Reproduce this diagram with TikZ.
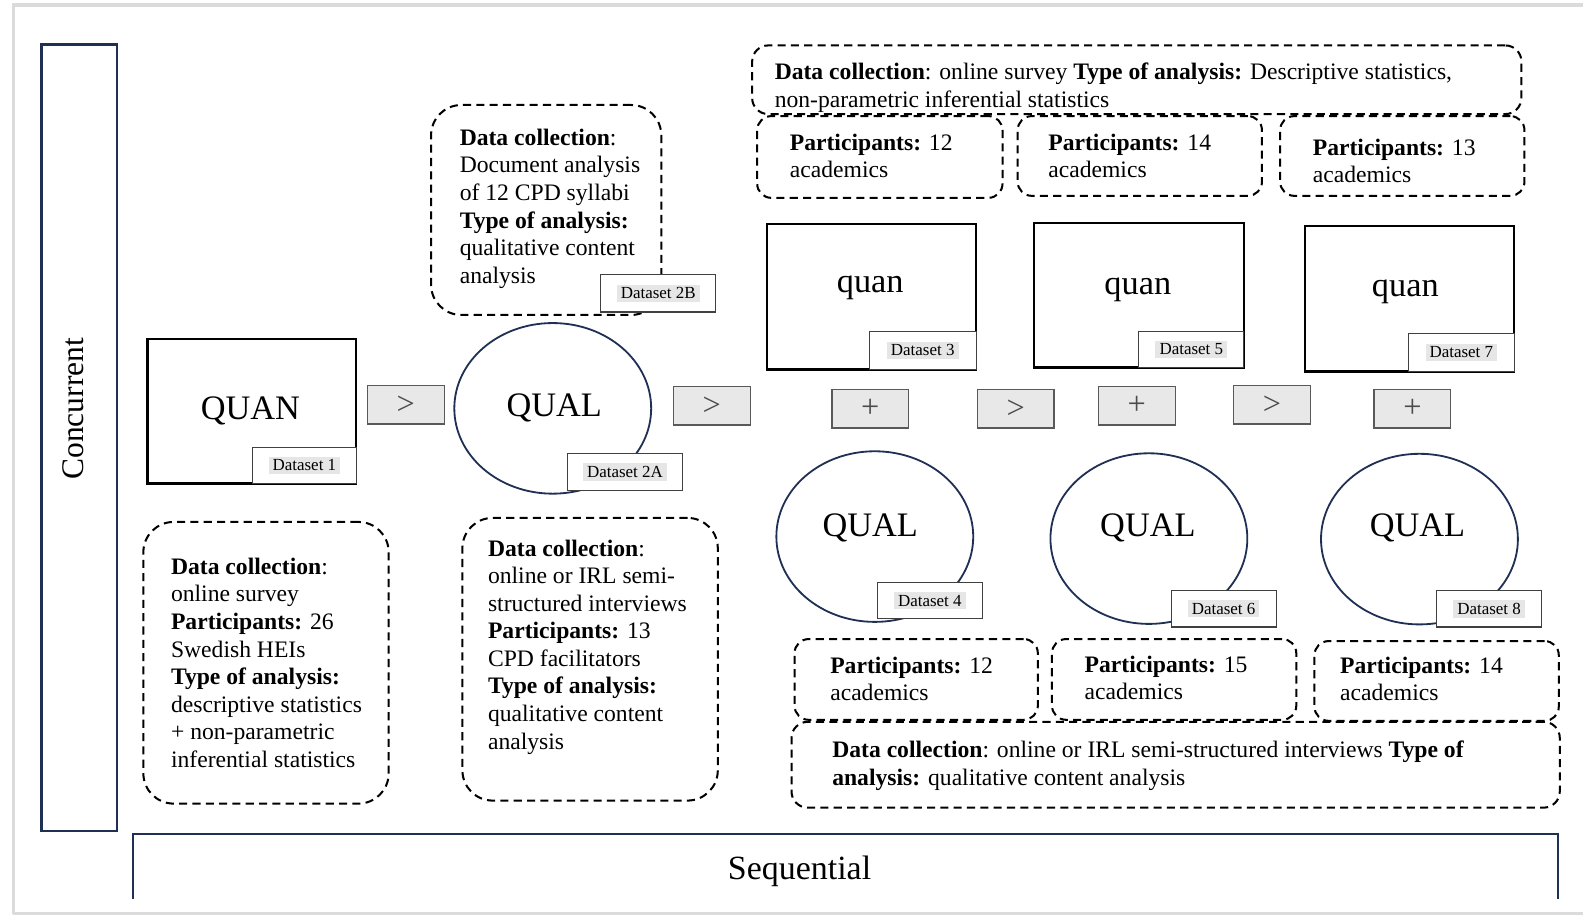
\documentclass[tikz,border=0pt]{standalone}
\usepackage{fontspec}
\setmainfont{Liberation Serif}
\usetikzlibrary{fit,shapes.geometric}
\definecolor{navy}{RGB}{32,48,84}
\definecolor{hilite}{RGB}{231,230,230}
\definecolor{opgray}{RGB}{232,232,232}
\newcommand{\bodyfont}{\fontsize{11.7}{13.65}\selectfont}
\begin{document}
\begin{tikzpicture}[x=0.5pt,y=-0.5pt,
  dbox/.style={draw=black, line width=1pt, dash pattern=on 4pt off 2.6pt, rounded corners=#1, inner sep=0pt},
  dbox/.default=7pt,
  solidbox/.style={draw=black, line width=1.1pt, inner sep=0pt},
  qualell/.style={ellipse, draw=navy, line width=0.9pt, minimum width=97.5pt, minimum height=84.5pt, inner sep=0pt},
  opbox/.style={draw=black!65, fill=opgray, line width=0.6pt, minimum width=38pt, minimum height=19pt, inner sep=0pt, font=\fontsize{16}{16}\selectfont, text=black!70},
  dsbox/.style={draw=black!75, fill=white, line width=0.6pt, inner sep=0pt},
  dstext/.style={fill=hilite, inner xsep=2pt, inner ysep=1.5pt, font=\fontsize{8.4}{9}\selectfont},
  % multi-line texts are placed by the baseline of their last line
  body/.style={anchor=base west, align=left, inner sep=0pt, font=\bodyfont},
  big/.style={font=\fontsize{17}{17}\selectfont, inner sep=0pt},
  axis/.style={draw=navy, line width=1.2pt}
]
\useasboundingbox (0,0) rectangle (1568,908);

% page edge
\draw[gray!28, line width=1.6pt] (13,905) -- (13,5) -- (1568,5);
\draw[gray!28, line width=1.6pt] (13,905) -- (1568,905);

% axes: concurrent and sequential
\node[axis, fit={(41,44) (116,823)}, inner sep=0pt] (conc) {};
\node[rotate=90, font=\fontsize{15.6}{16}\selectfont, inner sep=0pt] (concT) at (73,405) {Concurrent};
\draw[axis] (132,890) coordinate (seqL) -- (132,826) -- (1543,826) -- (1543,890) coordinate (seqR);
\node[font=\fontsize{16.8}{17}\selectfont, inner sep=0pt] (seqT) at (792,863) {Sequential};

% ---------- stage 1: QUAN ----------
\node[solidbox, fit={(146,336) (353,479)}] (quan1) {};
\node[big] (quan1T) at (248,407) {QUAN};
\node[dsbox, fit={(250,443) (353,479)}] (ds1) {};
\node[dstext] (ds1T) at (ds1.center) {Dataset 1};

\node[dbox=15pt, fit={(142,517) (385,796)}] (infoA) {};
\node[body] (infoAT) at (169,760) {\textbf{Data collection}:\\online survey\\\textbf{Participants:} 26\\Swedish HEIs\\\textbf{Type of analysis:}\\descriptive statistics\\+ non-parametric\\inferential statistics};

\node[opbox] (op1) at (402,401) {>};

% ---------- stage 2: QUAL ----------
\node[dbox=15pt, fit={(427,104) (655,312)}] (infoC) {};
\node[body] (infoCT) at (455,280.5) {\textbf{Data collection}:\\Document analysis\\of 12 CPD syllabi\\\textbf{Type of analysis:}\\qualitative content\\analysis};
\node[dsbox, fit={(595,272) (709,309)}] (ds2B) {};
\node[dstext] (ds2BT) at (ds2B.center) {Dataset 2B};

\node[qualell] (qual2) at (547.5,404.5) {};
\node[big] (qual2T) at (549,404) {QUAL};
\node[dsbox, fit={(562,449) (676,486)}] (ds2A) {};
\node[dstext] (ds2AT) at (ds2A.center) {Dataset 2A};

\node[dbox=15pt, fit={(458,513) (711,793)}] (infoB) {};
\node[body] (infoBT) at (483,742) {\textbf{Data collection}:\\online or IRL semi-\\structured interviews\\\textbf{Participants:} 13\\CPD facilitators\\\textbf{Type of analysis:}\\qualitative content\\analysis};

\node[opbox] (op2) at (705,402) {>};

% ---------- stage 3: quan + QUAL, three rounds ----------
\node[dbox=8pt, fit={(745,45) (1507,113)}] (topinfo) {};
\node[body] (topinfoT) at (767,106) {\textbf{Data collection}: online survey \textbf{Type of analysis:} Descriptive statistics,\\non-parametric inferential statistics};

\node[dbox=7pt, fit={(750,115) (993,196)}] (p3) {};
\node[body] (p3T) at (782,176) {\textbf{Participants:} 12\\academics};
\node[dbox=7pt, fit={(1008,115) (1250,194)}] (p5) {};
\node[body] (p5T) at (1038,176) {\textbf{Participants:} 14\\academics};
\node[dbox=7pt, fit={(1268,115) (1510,194)}] (p7) {};
\node[body] (p7T) at (1300,181) {\textbf{Participants:} 13\\academics};

\node[solidbox, fit={(760,222) (967,366)}] (quan3) {};
\node[big] (quan3T) at (862,285) {quan};
\node[dsbox, fit={(861,328) (967,366)}] (ds3) {};
\node[dstext] (ds3T) at (ds3.center) {Dataset 3};

\node[solidbox, fit={(1024,221) (1232,364)}] (quan5) {};
\node[big] (quan5T) at (1127,287) {quan};
\node[dsbox, fit={(1128,328) (1232,364)}] (ds5) {};
\node[dstext] (ds5T) at (ds5.center) {Dataset 5};

\node[solidbox, fit={(1293,224) (1500,368)}] (quan7) {};
\node[big] (quan7T) at (1392,289) {quan};
\node[dsbox, fit={(1395,330) (1500,368)}] (ds7) {};
\node[dstext] (ds7T) at (ds7.center) {Dataset 7};

\node[opbox] (plus1) at (862,405) {+};
\node[opbox] (op3) at (1006,405) {>};
\node[opbox] (plus2) at (1126,402) {+};
\node[opbox] (op4) at (1260,401) {>};
\node[opbox] (plus3) at (1399,405) {+};

\node[qualell] (qual4) at (866.5,531.5) {};
\node[big] (qual4T) at (862,523) {QUAL};
\node[dsbox, fit={(869,577) (973,613)}] (ds4) {};
\node[dstext] (ds4T) at (ds4.center) {Dataset 4};

\node[qualell] (qual6) at (1138,533.5) {};
\node[big] (qual6T) at (1137,523) {QUAL};
\node[dsbox, fit={(1160,585) (1264,621)}] (ds6) {};
\node[dstext] (ds6T) at (ds6.center) {Dataset 6};

\node[qualell] (qual8) at (1406,534) {};
\node[big] (qual8T) at (1404,523) {QUAL};
\node[dsbox, fit={(1423,585) (1527,621)}] (ds8) {};
\node[dstext] (ds8T) at (ds8.center) {Dataset 8};

\node[dbox=7pt, fit={(787,633) (1028,713)}] (p4) {};
\node[body] (p4T) at (822,694) {\textbf{Participants:} 12\\academics};
\node[dbox=7pt, fit={(1042,633) (1284,713)}] (p6) {};
\node[body] (p6T) at (1074,693) {\textbf{Participants:} 15\\academics};
\node[dbox=7pt, fit={(1302,635) (1544,714)}] (p8) {};
\node[body] (p8T) at (1327,694) {\textbf{Participants:} 14\\academics};

\node[dbox=8pt, fit={(784,715) (1545,800)}] (botinfo) {};
\node[body] (botinfoT) at (824,778) {\textbf{Data collection}: online or IRL semi-structured interviews \textbf{Type of}\\\textbf{analysis:} qualitative content analysis};
\end{tikzpicture}
\end{document}
